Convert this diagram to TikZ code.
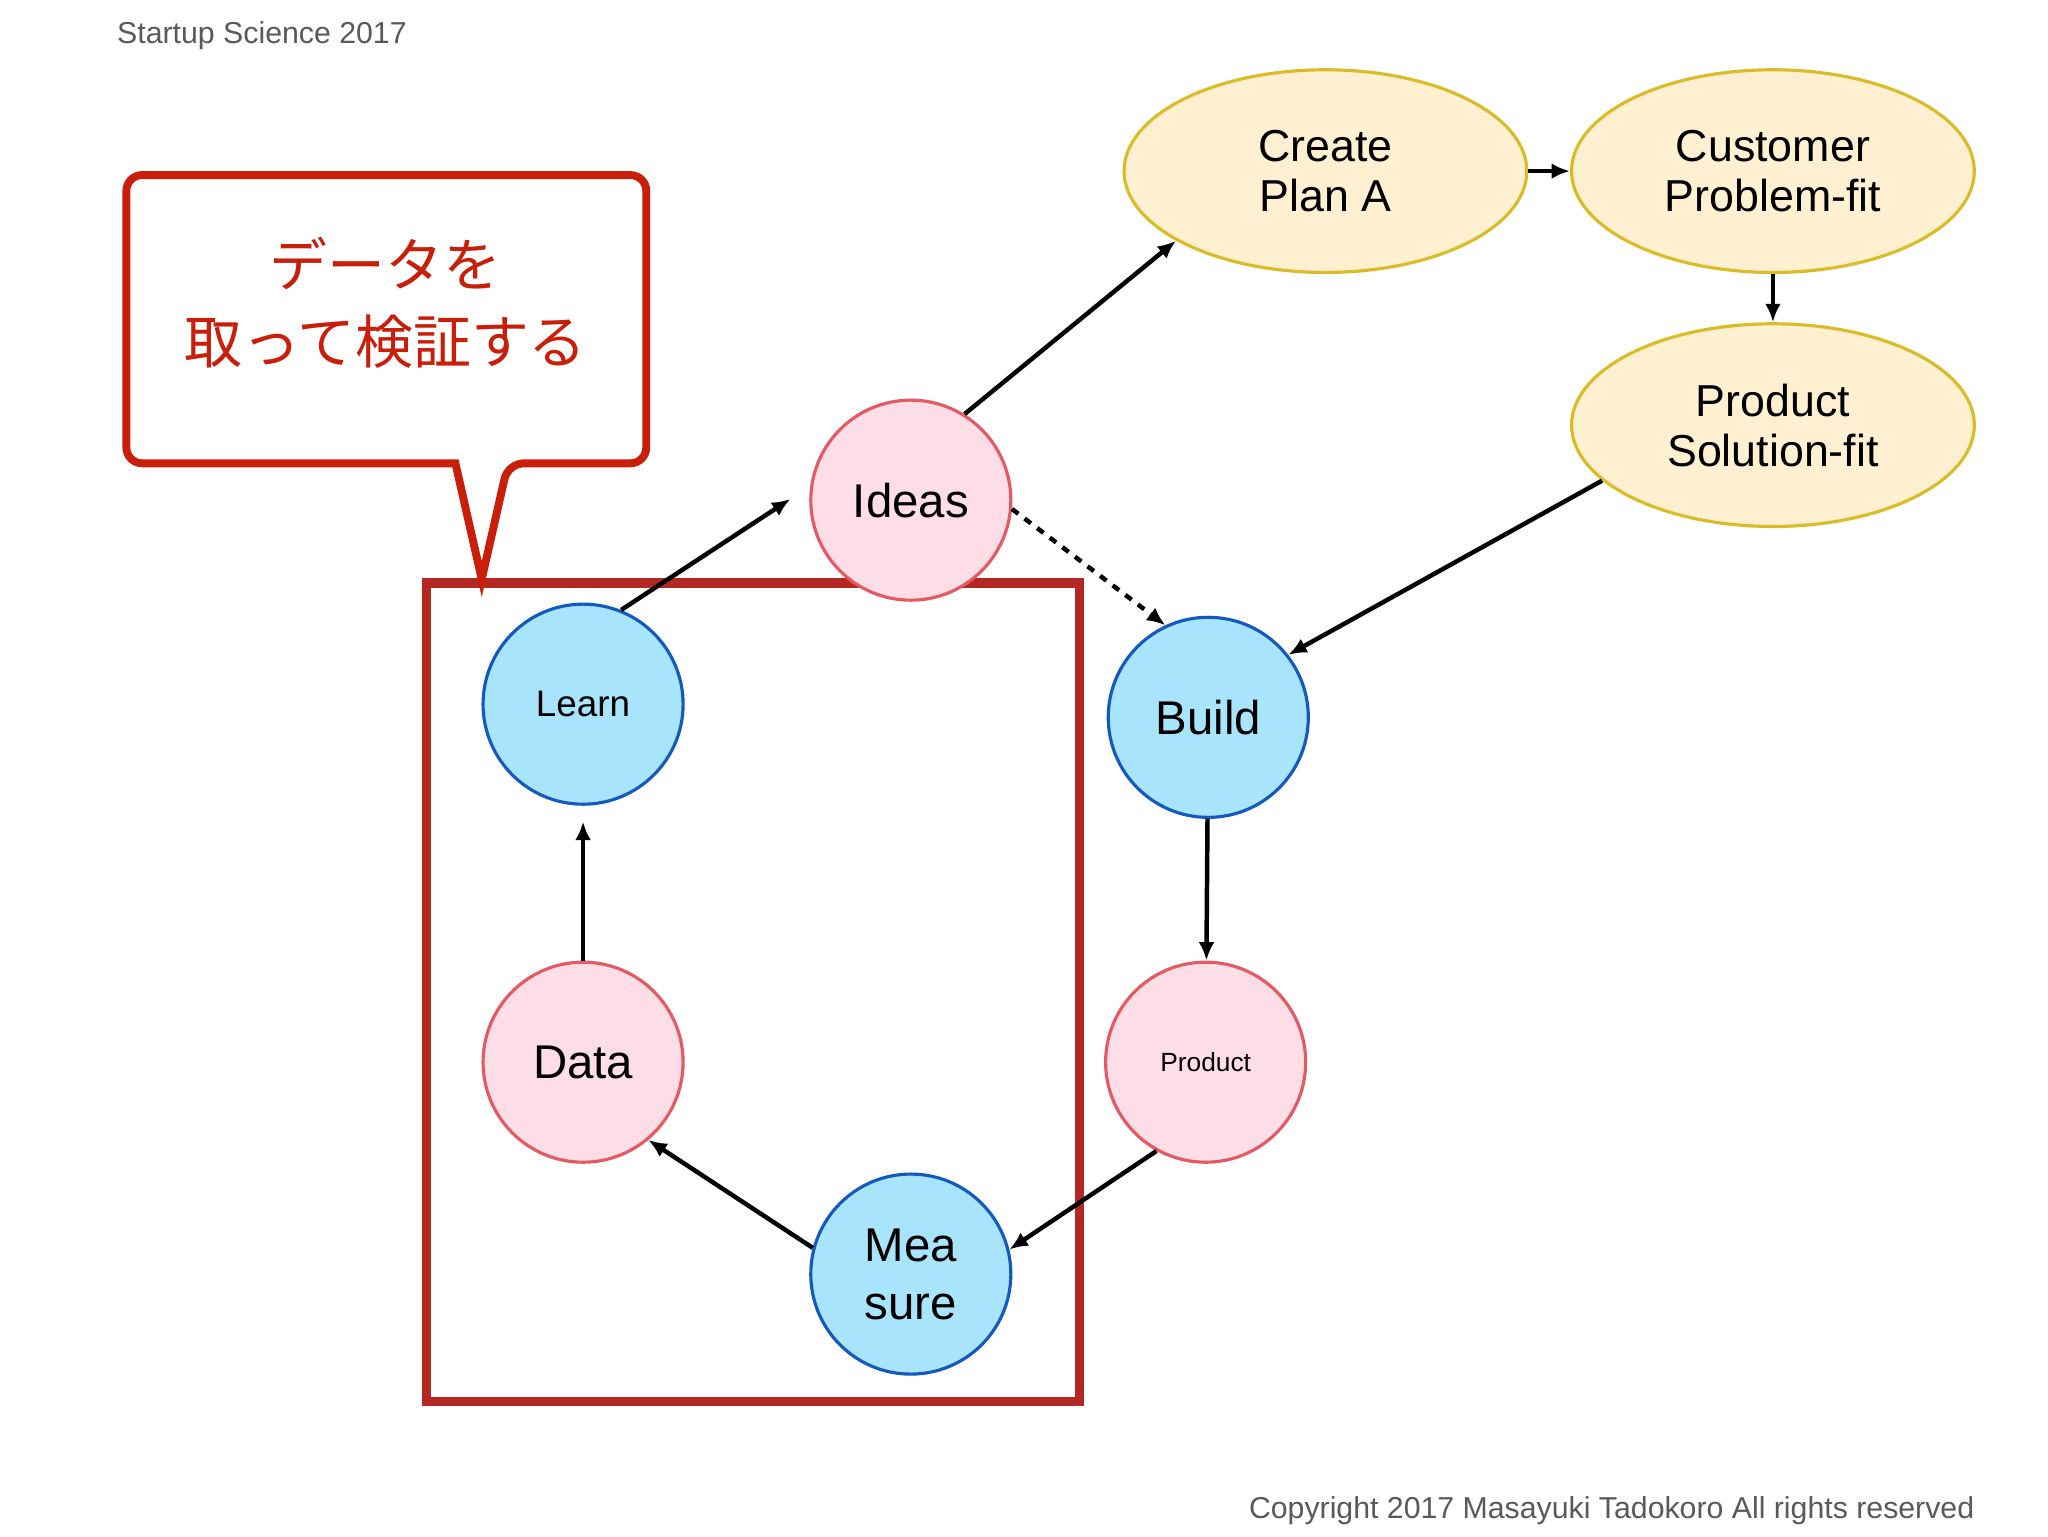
\documentclass[tikz,border=0pt]{standalone}
\usepackage{fontspec}
\setmainfont{Liberation Sans}
\newfontfamily\cjk{Noto Sans CJK JP}
\usetikzlibrary{arrows.meta,shapes.geometric}
\definecolor{pinkfill}{RGB}{253,221,230}
\definecolor{pinkline}{RGB}{228,90,100}
\definecolor{bluefill}{RGB}{168,228,252}
\definecolor{blueline}{RGB}{20,90,190}
\definecolor{yelfill}{RGB}{254,240,208}
\definecolor{yelline}{RGB}{218,188,40}
\definecolor{callred}{RGB}{200,30,10}
\definecolor{boxred}{RGB}{180,40,35}
\tikzset{
  pinkc/.style={circle,draw=pinkline,fill=pinkfill,line width=1.2pt,minimum size=76pt,inner sep=0pt,align=center},
  bluec/.style={circle,draw=blueline,fill=bluefill,line width=1.2pt,minimum size=76pt,inner sep=0pt,align=center},
  stage/.style={ellipse,draw=yelline,fill=yelfill,line width=1.2pt,minimum width=153pt,minimum height=77pt,inner sep=0pt,align=center,font=\fontsize{17}{19}\selectfont},
  flow/.style={-{Latex[length=7pt,width=6pt]},line width=1.7pt}
}
\begin{document}
\begin{tikzpicture}[x=0.5pt,y=0.5pt,yscale=-1]
\path (0,0) rectangle (1556,1167);

% header and footer
\node[anchor=west,text=black!65,font=\fontsize{11.5}{13}\selectfont] (head) at (82,27) {Startup Science 2017};
\node[anchor=east,text=black!65,font=\fontsize{11.5}{13}\selectfont] (copy) at (1507,1148) {Copyright 2017 Masayuki Tadokoro All rights reserved};

% highlighted area
\draw[boxred,line width=3.5pt] (324,443) rectangle (820,1065);

% callout
\draw[callred,line width=3pt,fill=white,rounded corners=6pt] (346,352) -- (96,352) -- (96,133) -- (491,133) -- (491,352) -- (386,352) [sharp corners] -- (366,440) -- cycle;
\node[text=callred,font=\cjk\fontsize{22}{29}\selectfont,align=center] (note) at (293,230) {データを\\取って検証する};

% nodes
\node[pinkc,font=\fontsize{18}{20}\selectfont] (ideas) at (692,380) {Ideas};
\node[bluec,font=\fontsize{14}{16}\selectfont] (learn) at (443,535) {Learn};
\node[bluec,font=\fontsize{18}{20}\selectfont] (build) at (918,545) {Build};
\node[pinkc,font=\fontsize{10}{12}\selectfont] (product) at (916,807) {Product};
\node[pinkc,font=\fontsize{18}{20}\selectfont] (data) at (443,807) {Data};
\node[bluec,font=\fontsize{18}{22}\selectfont] (measure) at (692,968) {Mea\\sure};
\node[stage] (planA) at (1007,130) {Create\\Plan A};
\node[stage] (probfit) at (1347,130) {Customer\\Problem-fit};
\node[stage] (solfit) at (1347,323) {Product\\Solution-fit};

% connectors
\draw[flow,shorten >=9pt] (learn.68) -- (ideas.172);
\draw[flow] (ideas.58) -- (planA.205);
\draw[flow] (planA) -- (probfit);
\draw[flow] (probfit) -- (solfit);
\draw[flow] (solfit.198) -- (build.38);
\draw[flow,dashed] (ideas.-5) -- (build.115);
\draw[flow] (build) -- (product);
\draw[flow] (product.241) -- (measure.14);
\draw[flow] (measure.165) -- (data.-50);
\draw[flow,shorten >=6pt] (data) -- (learn);
\end{tikzpicture}
\end{document}
